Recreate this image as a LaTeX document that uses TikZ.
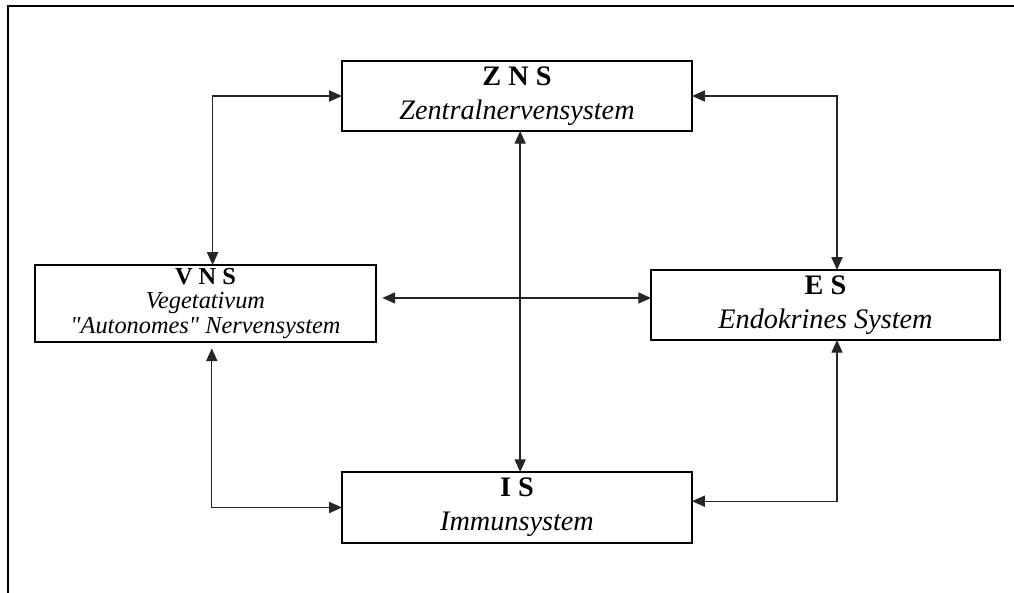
\documentclass[tikz,border=0pt]{standalone}
\usepackage{fontspec}
\setmainfont{Liberation Serif}[Ligatures=TeXOff]
\usetikzlibrary{arrows.meta}

\begin{document}
\begin{tikzpicture}[x=0.0127cm,y=-0.0127cm,
	sys/.style={draw, line width=0.75pt, inner sep=0pt, outer sep=0pt, align=center,
		font=\fontsize{10.2}{12.2}\selectfont},
	link/.style={line width=0.5pt, draw=black!85,
		{Triangle[length=4.6pt,width=4pt]}-{Triangle[length=4.6pt,width=4pt]}}]

	%Page and frame
	\useasboundingbox (0,0) rectangle (1014,593);
	\draw [line width=0.75pt] (8,593) |- (1014,6);

	%The four systems
	\node [sys, minimum width=4.445cm, minimum height=0.889cm](zns) at (517,96)
		{\textbf{Z N S}\\\textit{Zentralnervensystem}};
	\node [sys, minimum width=4.33cm, minimum height=0.978cm,
		font=\fontsize{8.8}{8.7}\selectfont](vns) at (205.5,303.5)
		{\textbf{V N S}\\\textit{Vegetativum}\\\textit{"Autonomes" Nervensystem}};
	\node [sys, minimum width=4.43cm, minimum height=0.889cm](es) at (825.5,305)
		{\textbf{E S}\\\textit{Endokrines System}};
	\node [sys, minimum width=4.445cm, minimum height=0.90cm](is) at (517,507.5)
		{\textbf{I S}\\\textit{Immunsystem}};

	%Connections
	\coordinate (h) at ([yshift=0.07cm, xshift=0.08cm]vns.east);
	\draw [link] (h) -- (h -| es.west);
	\draw [link] ([xshift=0.04cm]zns.south) -- ([xshift=0.04cm]is.north);
	\draw [link] ([xshift=0.09cm]vns.north) |- (zns.west);
	\draw [link] ([xshift=0.146cm]es.north) |- (zns.east);
	\draw [link] ([xshift=0.08cm, yshift=-0.08cm]vns.south) |- (is.west);
	\draw [link] ([xshift=0.146cm]es.south) |- ([yshift=0.08cm]is.east);

\end{tikzpicture}
\end{document}
